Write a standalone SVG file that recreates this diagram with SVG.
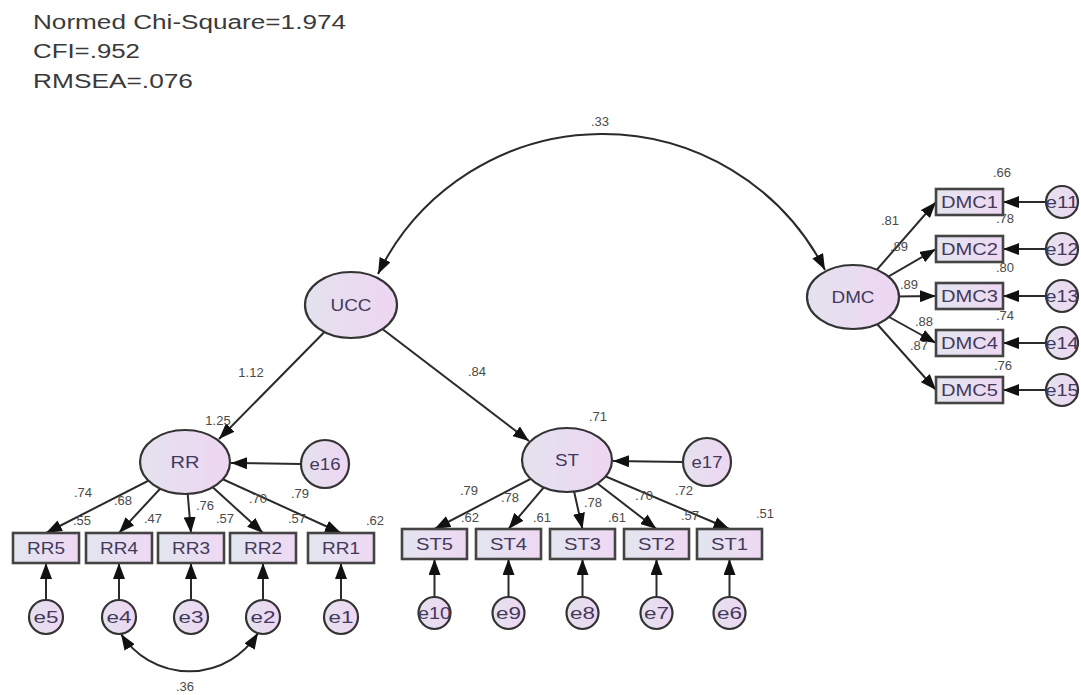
<svg xmlns="http://www.w3.org/2000/svg" width="1081" height="695" viewBox="0 0 1081 695">
<style>
.bg{fill:#ffffff}
.lat{fill:url(#gl);stroke:#333;stroke-width:2.2}
.box{fill:url(#gb);stroke:#444;stroke-width:2.6}
.err{fill:url(#gl);stroke:#333;stroke-width:2.2}
.ln{fill:none;stroke:#2a2a2a;stroke-width:2}
.lbl{font-family:"Liberation Sans",Arial,sans-serif;font-size:17px;fill:#43395a;text-anchor:middle}
.num{font-family:"Liberation Sans",Arial,sans-serif;font-size:13px;fill:#4a4a4a;text-anchor:middle}
.fit{font-family:"Liberation Sans",Arial,sans-serif;font-size:20px;fill:#3a3a3a}
</style>
<defs>
<linearGradient id="gl" x1="0" y1="0" x2="1" y2="0">
<stop offset="0" stop-color="#e4e2ee"/>
<stop offset="1" stop-color="#eed6f2"/>
</linearGradient>
<linearGradient id="gb" x1="0" y1="0" x2="1" y2="0">
<stop offset="0" stop-color="#e2e6ef"/>
<stop offset="1" stop-color="#efd8f3"/>
</linearGradient>
<marker id="ah" viewBox="0 0 16 12" refX="16" refY="6" markerWidth="16" markerHeight="12" markerUnits="userSpaceOnUse" orient="auto-start-reverse">
<path d="M0,0 L16,6 L0,12 z" fill="#111"/>
</marker>
</defs>
<rect class="bg" x="0" y="0" width="1081" height="695"/>

<g id="fit-indices">
<text class="fit" x="33" y="29" textLength="313" lengthAdjust="spacingAndGlyphs">Normed Chi-Square=1.974</text>
<text class="fit" x="33" y="58" textLength="107" lengthAdjust="spacingAndGlyphs">CFI=.952</text>
<text class="fit" x="33" y="88" textLength="160" lengthAdjust="spacingAndGlyphs">RMSEA=.076</text>
</g>

<g id="connectors">
<path class="ln" d="M378,274 A250,250 0 0 1 825,270" marker-start="url(#ah)" marker-end="url(#ah)"/>
<path class="ln" d="M351,305 L219,439" marker-end="url(#ah)"/>
<path class="ln" d="M351,305 L529,441" marker-end="url(#ah)"/>
<path class="ln" d="M301,464 L231,463" marker-end="url(#ah)"/>
<path class="ln" d="M683,462 L613,461" marker-end="url(#ah)"/>
<path class="ln" d="M185,462 L46,533" marker-end="url(#ah)"/>
<path class="ln" d="M185,462 L119,533" marker-end="url(#ah)"/>
<path class="ln" d="M185,462 L191,533" marker-end="url(#ah)"/>
<path class="ln" d="M185,462 L263,533" marker-end="url(#ah)"/>
<path class="ln" d="M185,462 L341,533" marker-end="url(#ah)"/>
<path class="ln" d="M567,460 L434.5,529" marker-end="url(#ah)"/>
<path class="ln" d="M567,460 L508.5,529" marker-end="url(#ah)"/>
<path class="ln" d="M567,460 L582.5,529" marker-end="url(#ah)"/>
<path class="ln" d="M567,460 L656.5,529" marker-end="url(#ah)"/>
<path class="ln" d="M567,460 L729.5,529" marker-end="url(#ah)"/>
<path class="ln" d="M46,600 L46,563" marker-end="url(#ah)"/>
<path class="ln" d="M119,600 L119,563" marker-end="url(#ah)"/>
<path class="ln" d="M191,600 L191,563" marker-end="url(#ah)"/>
<path class="ln" d="M263,600 L263,563" marker-end="url(#ah)"/>
<path class="ln" d="M341,600 L341,563" marker-end="url(#ah)"/>
<path class="ln" d="M434.5,597 L434.5,559" marker-end="url(#ah)"/>
<path class="ln" d="M508.5,597 L508.5,559" marker-end="url(#ah)"/>
<path class="ln" d="M582.5,597 L582.5,559" marker-end="url(#ah)"/>
<path class="ln" d="M656.5,597 L656.5,559" marker-end="url(#ah)"/>
<path class="ln" d="M729.5,597 L729.5,559" marker-end="url(#ah)"/>
<path class="ln" d="M853,297 L936,202" marker-end="url(#ah)"/>
<path class="ln" d="M853,297 L936,249" marker-end="url(#ah)"/>
<path class="ln" d="M853,297 L936,296" marker-end="url(#ah)"/>
<path class="ln" d="M853,297 L936,343" marker-end="url(#ah)"/>
<path class="ln" d="M853,297 L936,390" marker-end="url(#ah)"/>
<path class="ln" d="M1046,202 L1003,202" marker-end="url(#ah)"/>
<path class="ln" d="M1046,249 L1003,249" marker-end="url(#ah)"/>
<path class="ln" d="M1046,296 L1003,296" marker-end="url(#ah)"/>
<path class="ln" d="M1046,343 L1003,343" marker-end="url(#ah)"/>
<path class="ln" d="M1046,390 L1003,390" marker-end="url(#ah)"/>
<path class="ln" d="M121,634 A81,81 0 0 0 258,633" marker-start="url(#ah)" marker-end="url(#ah)"/>
</g>

<g id="UCC"><ellipse class="lat" cx="351" cy="305" rx="46" ry="33"/><text class="lbl" x="351" y="311" textLength="41" lengthAdjust="spacingAndGlyphs">UCC</text></g>
<g id="DMC"><ellipse class="lat" cx="853" cy="297" rx="46" ry="32"/><text class="lbl" x="853" y="303" textLength="43" lengthAdjust="spacingAndGlyphs">DMC</text></g>
<g id="RR"><ellipse class="lat" cx="185" cy="462" rx="45" ry="32"/><text class="lbl" x="185" y="468" textLength="29" lengthAdjust="spacingAndGlyphs">RR</text></g>
<g id="ST"><ellipse class="lat" cx="567" cy="460" rx="45" ry="32"/><text class="lbl" x="567" y="466" textLength="24" lengthAdjust="spacingAndGlyphs">ST</text></g>
<g id="e16"><circle class="err" cx="325" cy="464" r="24"/><text class="lbl" x="325" y="470" textLength="31" lengthAdjust="spacingAndGlyphs">e16</text></g>
<g id="e17"><circle class="err" cx="707" cy="462" r="24"/><text class="lbl" x="707" y="468" textLength="31" lengthAdjust="spacingAndGlyphs">e17</text></g>

<g id="RR5"><rect class="box" x="13" y="533" width="66" height="30"/><text class="lbl" x="46" y="554" textLength="38" lengthAdjust="spacingAndGlyphs">RR5</text></g>
<g id="RR4"><rect class="box" x="86" y="533" width="66" height="30"/><text class="lbl" x="119" y="554" textLength="38" lengthAdjust="spacingAndGlyphs">RR4</text></g>
<g id="RR3"><rect class="box" x="158" y="533" width="66" height="30"/><text class="lbl" x="191" y="554" textLength="38" lengthAdjust="spacingAndGlyphs">RR3</text></g>
<g id="RR2"><rect class="box" x="230" y="533" width="66" height="30"/><text class="lbl" x="263" y="554" textLength="38" lengthAdjust="spacingAndGlyphs">RR2</text></g>
<g id="RR1"><rect class="box" x="308" y="533" width="66" height="30"/><text class="lbl" x="341" y="554" textLength="38" lengthAdjust="spacingAndGlyphs">RR1</text></g>

<g id="e5"><circle class="err" cx="46" cy="617" r="17"/><text class="lbl" x="46" y="623" textLength="25" lengthAdjust="spacingAndGlyphs">e5</text></g>
<g id="e4"><circle class="err" cx="119" cy="617" r="17"/><text class="lbl" x="119" y="623" textLength="25" lengthAdjust="spacingAndGlyphs">e4</text></g>
<g id="e3"><circle class="err" cx="191" cy="617" r="17"/><text class="lbl" x="191" y="623" textLength="25" lengthAdjust="spacingAndGlyphs">e3</text></g>
<g id="e2"><circle class="err" cx="263" cy="617" r="17"/><text class="lbl" x="263" y="623" textLength="25" lengthAdjust="spacingAndGlyphs">e2</text></g>
<g id="e1"><circle class="err" cx="341" cy="617" r="17"/><text class="lbl" x="341" y="623" textLength="25" lengthAdjust="spacingAndGlyphs">e1</text></g>

<g id="ST5"><rect class="box" x="402" y="529" width="65" height="30"/><text class="lbl" x="434.5" y="550" textLength="37" lengthAdjust="spacingAndGlyphs">ST5</text></g>
<g id="ST4"><rect class="box" x="476" y="529" width="65" height="30"/><text class="lbl" x="508.5" y="550" textLength="37" lengthAdjust="spacingAndGlyphs">ST4</text></g>
<g id="ST3"><rect class="box" x="550" y="529" width="65" height="30"/><text class="lbl" x="582.5" y="550" textLength="37" lengthAdjust="spacingAndGlyphs">ST3</text></g>
<g id="ST2"><rect class="box" x="624" y="529" width="65" height="30"/><text class="lbl" x="656.5" y="550" textLength="37" lengthAdjust="spacingAndGlyphs">ST2</text></g>
<g id="ST1"><rect class="box" x="697" y="529" width="65" height="30"/><text class="lbl" x="729.5" y="550" textLength="37" lengthAdjust="spacingAndGlyphs">ST1</text></g>

<g id="e10"><circle class="err" cx="434.5" cy="613" r="16"/><text class="lbl" x="434.5" y="619" textLength="33" lengthAdjust="spacingAndGlyphs">e10</text></g>
<g id="e9"><circle class="err" cx="508.5" cy="613" r="16"/><text class="lbl" x="508.5" y="619" textLength="25" lengthAdjust="spacingAndGlyphs">e9</text></g>
<g id="e8"><circle class="err" cx="582.5" cy="613" r="16"/><text class="lbl" x="582.5" y="619" textLength="25" lengthAdjust="spacingAndGlyphs">e8</text></g>
<g id="e7"><circle class="err" cx="656.5" cy="613" r="16"/><text class="lbl" x="656.5" y="619" textLength="25" lengthAdjust="spacingAndGlyphs">e7</text></g>
<g id="e6"><circle class="err" cx="729.5" cy="613" r="16"/><text class="lbl" x="729.5" y="619" textLength="25" lengthAdjust="spacingAndGlyphs">e6</text></g>

<g id="DMC1"><rect class="box" x="936" y="189" width="67" height="26"/><text class="lbl" x="969.5" y="208" textLength="57" lengthAdjust="spacingAndGlyphs">DMC1</text></g>
<g id="DMC2"><rect class="box" x="936" y="236" width="67" height="26"/><text class="lbl" x="969.5" y="255" textLength="57" lengthAdjust="spacingAndGlyphs">DMC2</text></g>
<g id="DMC3"><rect class="box" x="936" y="283" width="67" height="26"/><text class="lbl" x="969.5" y="302" textLength="57" lengthAdjust="spacingAndGlyphs">DMC3</text></g>
<g id="DMC4"><rect class="box" x="936" y="330" width="67" height="26"/><text class="lbl" x="969.5" y="349" textLength="57" lengthAdjust="spacingAndGlyphs">DMC4</text></g>
<g id="DMC5"><rect class="box" x="936" y="377" width="67" height="26"/><text class="lbl" x="969.5" y="396" textLength="57" lengthAdjust="spacingAndGlyphs">DMC5</text></g>

<g id="e11"><circle class="err" cx="1062" cy="202" r="16"/><text class="lbl" x="1062" y="208" textLength="33" lengthAdjust="spacingAndGlyphs">e11</text></g>
<g id="e12"><circle class="err" cx="1062" cy="249" r="16"/><text class="lbl" x="1062" y="255" textLength="33" lengthAdjust="spacingAndGlyphs">e12</text></g>
<g id="e13"><circle class="err" cx="1062" cy="296" r="16"/><text class="lbl" x="1062" y="302" textLength="33" lengthAdjust="spacingAndGlyphs">e13</text></g>
<g id="e14"><circle class="err" cx="1062" cy="343" r="16"/><text class="lbl" x="1062" y="349" textLength="33" lengthAdjust="spacingAndGlyphs">e14</text></g>
<g id="e15"><circle class="err" cx="1062" cy="390" r="16"/><text class="lbl" x="1062" y="396" textLength="33" lengthAdjust="spacingAndGlyphs">e15</text></g>

<g id="estimates">
<text class="num" x="600" y="126">.33</text>
<text class="num" x="251" y="377">1.12</text>
<text class="num" x="477" y="376">.84</text>
<text class="num" x="218" y="425">1.25</text>
<text class="num" x="598" y="421">.71</text>
<text class="num" x="83" y="497">.74</text>
<text class="num" x="123" y="505">.68</text>
<text class="num" x="205" y="510">.76</text>
<text class="num" x="258" y="503">.70</text>
<text class="num" x="300" y="498">.79</text>
<text class="num" x="82" y="525">.55</text>
<text class="num" x="153" y="523">.47</text>
<text class="num" x="225" y="523">.57</text>
<text class="num" x="297" y="523">.57</text>
<text class="num" x="375" y="525">.62</text>
<text class="num" x="469" y="495">.79</text>
<text class="num" x="510" y="502">.78</text>
<text class="num" x="593" y="507">.78</text>
<text class="num" x="644" y="500">.70</text>
<text class="num" x="684" y="495">.72</text>
<text class="num" x="470" y="522">.62</text>
<text class="num" x="542" y="522">.61</text>
<text class="num" x="617" y="522">.61</text>
<text class="num" x="690" y="520">.57</text>
<text class="num" x="765" y="518">.51</text>
<text class="num" x="890" y="225">.81</text>
<text class="num" x="899" y="251">.89</text>
<text class="num" x="909" y="289">.89</text>
<text class="num" x="924" y="326">.88</text>
<text class="num" x="919" y="350">.87</text>
<text class="num" x="1002" y="177">.66</text>
<text class="num" x="1005" y="223">.78</text>
<text class="num" x="1005" y="272">.80</text>
<text class="num" x="1005" y="320">.74</text>
<text class="num" x="1003" y="370">.76</text>
<text class="num" x="185" y="691">.36</text>
</g>
</svg>
